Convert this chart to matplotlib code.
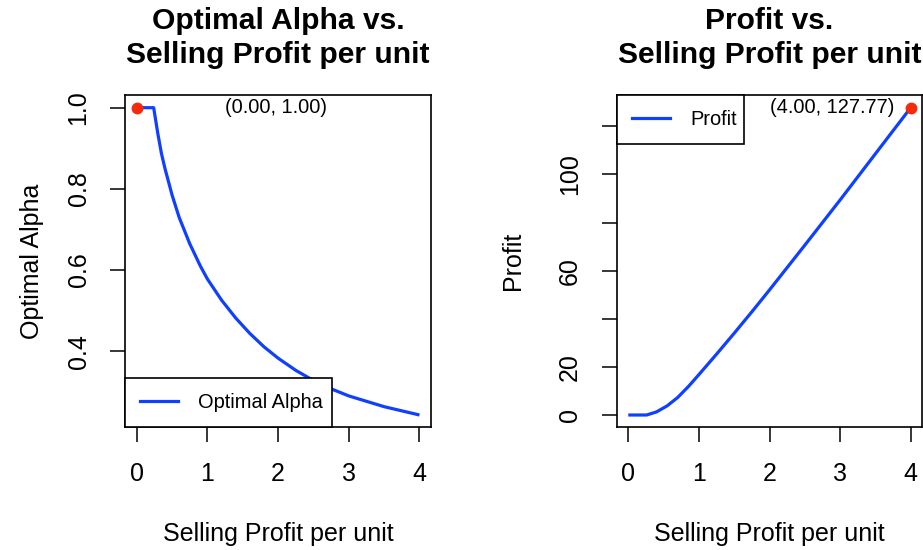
import matplotlib
matplotlib.use('Agg')
import matplotlib.pyplot as plt
from matplotlib.lines import Line2D

plt.rcParams['font.family'] = ['Liberation Sans', 'DejaVu Sans']

# ---- data ----
selling_profit_alpha = [0.0, 0.24, 0.30, 0.35, 0.40, 0.50, 0.60, 0.75, 0.90, 1.00, 1.20, 1.40,
                        1.60, 1.80, 2.00, 2.25, 2.45, 2.75, 3.00, 3.50, 4.00]
optimal_alpha = [1.0, 1.0, 0.935, 0.887, 0.850, 0.785, 0.730, 0.665, 0.610, 0.578, 0.526, 0.482,
                 0.444, 0.411, 0.383, 0.353, 0.333, 0.3075, 0.290, 0.2635, 0.243]

selling_profit_profit = [0.0, 0.26, 0.40, 0.55, 0.70, 0.85, 1.00, 1.25, 1.50, 1.75, 2.00,
                         2.50, 3.00, 3.50, 4.00]
profit = [0.0, 0.0, 1.3, 3.8, 7.3, 11.8, 16.8, 25.3, 34.0, 42.9, 52.0,
          70.6, 89.4, 108.6, 127.77]

x_ticks = [0, 1, 2, 3, 4]
alpha_ticks = [0.4, 0.6, 0.8, 1.0]
alpha_tick_labels = ['0.4', '0.6', '0.8', '1.0']
profit_ticks = [0, 20, 40, 60, 80, 100, 120]
profit_tick_labels = ['0', '20', '', '60', '', '100', '']

line_color = '#1040FF'
dot_color = '#F52A0A'

W, H = 923, 550
fig = plt.figure(figsize=(W / 100, H / 100), dpi=100)
ax1 = fig.add_axes([125.4 / W, 1 - 427.3 / H, 305.4 / W, 331.9 / H])
ax2 = fig.add_axes([617.0 / W, 1 - 427.3 / H, 305.0 / W, 331.9 / H])


def r_lim(vals):
    lo, hi = min(vals), max(vals)
    d = (hi - lo) * 0.04
    return lo - d, hi + d


def style(ax, title, xlabel, ylabel, ylabelpad):
    ax.set_title(title, fontsize=21.6, fontweight='bold', pad=23.3, linespacing=1.29)
    ax.set_xlabel(xlabel, fontsize=18, labelpad=26)
    ax.set_ylabel(ylabel, fontsize=18, labelpad=ylabelpad)
    ax.tick_params(direction='out', length=10.8, width=1.1, labelsize=18, pad=14.3)
    for lab in ax.get_yticklabels():
        lab.set_rotation(90)
        lab.set_va('center')
    for s in ax.spines.values():
        s.set_linewidth(1.2)


def add_legend(ax, label, loc, bbox):
    leg = ax.legend([Line2D([], [], color=line_color, lw=2.3)], [label],
                    loc=loc, bbox_to_anchor=bbox, mode='expand',
                    borderaxespad=0, fancybox=False, edgecolor='black', framealpha=1,
                    fontsize=14.4, handlelength=1.9, handletextpad=1.0, borderpad=0.75)
    leg.get_frame().set_linewidth(1.2)
    return leg


# ---- left panel ----
ax1.plot(selling_profit_alpha, optimal_alpha, color=line_color, lw=2.3, solid_capstyle='butt')
i_best = optimal_alpha.index(max(optimal_alpha))
bx, by = selling_profit_alpha[i_best], optimal_alpha[i_best]
ax1.plot([bx], [by], 'o', color=dot_color, ms=7.5, zorder=5)
ax1.text(1.97, by, f'({bx:.2f}, {by:.2f})', ha='center', va='center', fontsize=14.4)
ax1.set_xlim(r_lim(selling_profit_alpha))
ax1.set_ylim(r_lim(optimal_alpha))
ax1.set_xticks(x_ticks)
ax1.set_yticks(alpha_ticks)
ax1.set_yticklabels(alpha_tick_labels)
style(ax1, 'Optimal Alpha vs.\nSelling Profit per unit', 'Selling Profit per unit',
      'Optimal Alpha', 16)
add_legend(ax1, 'Optimal Alpha', 'lower left', (0, 0, 0.6755, 0.3))

# ---- right panel ----
ax2.plot(selling_profit_profit, profit, color=line_color, lw=2.3, solid_capstyle='butt')
j_best = profit.index(max(profit))
px, py = selling_profit_profit[j_best], profit[j_best]
ax2.plot([px], [py], 'o', color=dot_color, ms=7.5, zorder=5, clip_on=False)
ax2.annotate(f'({px:.2f}, {py:.2f})', (px, py), xytext=(-12, 0), textcoords='offset points',
             ha='right', va='center', fontsize=14.4)
ax2.set_xlim(r_lim(selling_profit_profit))
ax2.set_ylim(r_lim(profit))
ax2.set_xticks(x_ticks)
ax2.set_yticks(profit_ticks)
ax2.set_yticklabels(profit_tick_labels)
style(ax2, 'Profit vs.\nSelling Profit per unit', 'Selling Profit per unit', 'Profit', 24)
add_legend(ax2, 'Profit', 'upper left', (0, 0, 0.417, 1))

fig.savefig('out.png', dpi=100)
